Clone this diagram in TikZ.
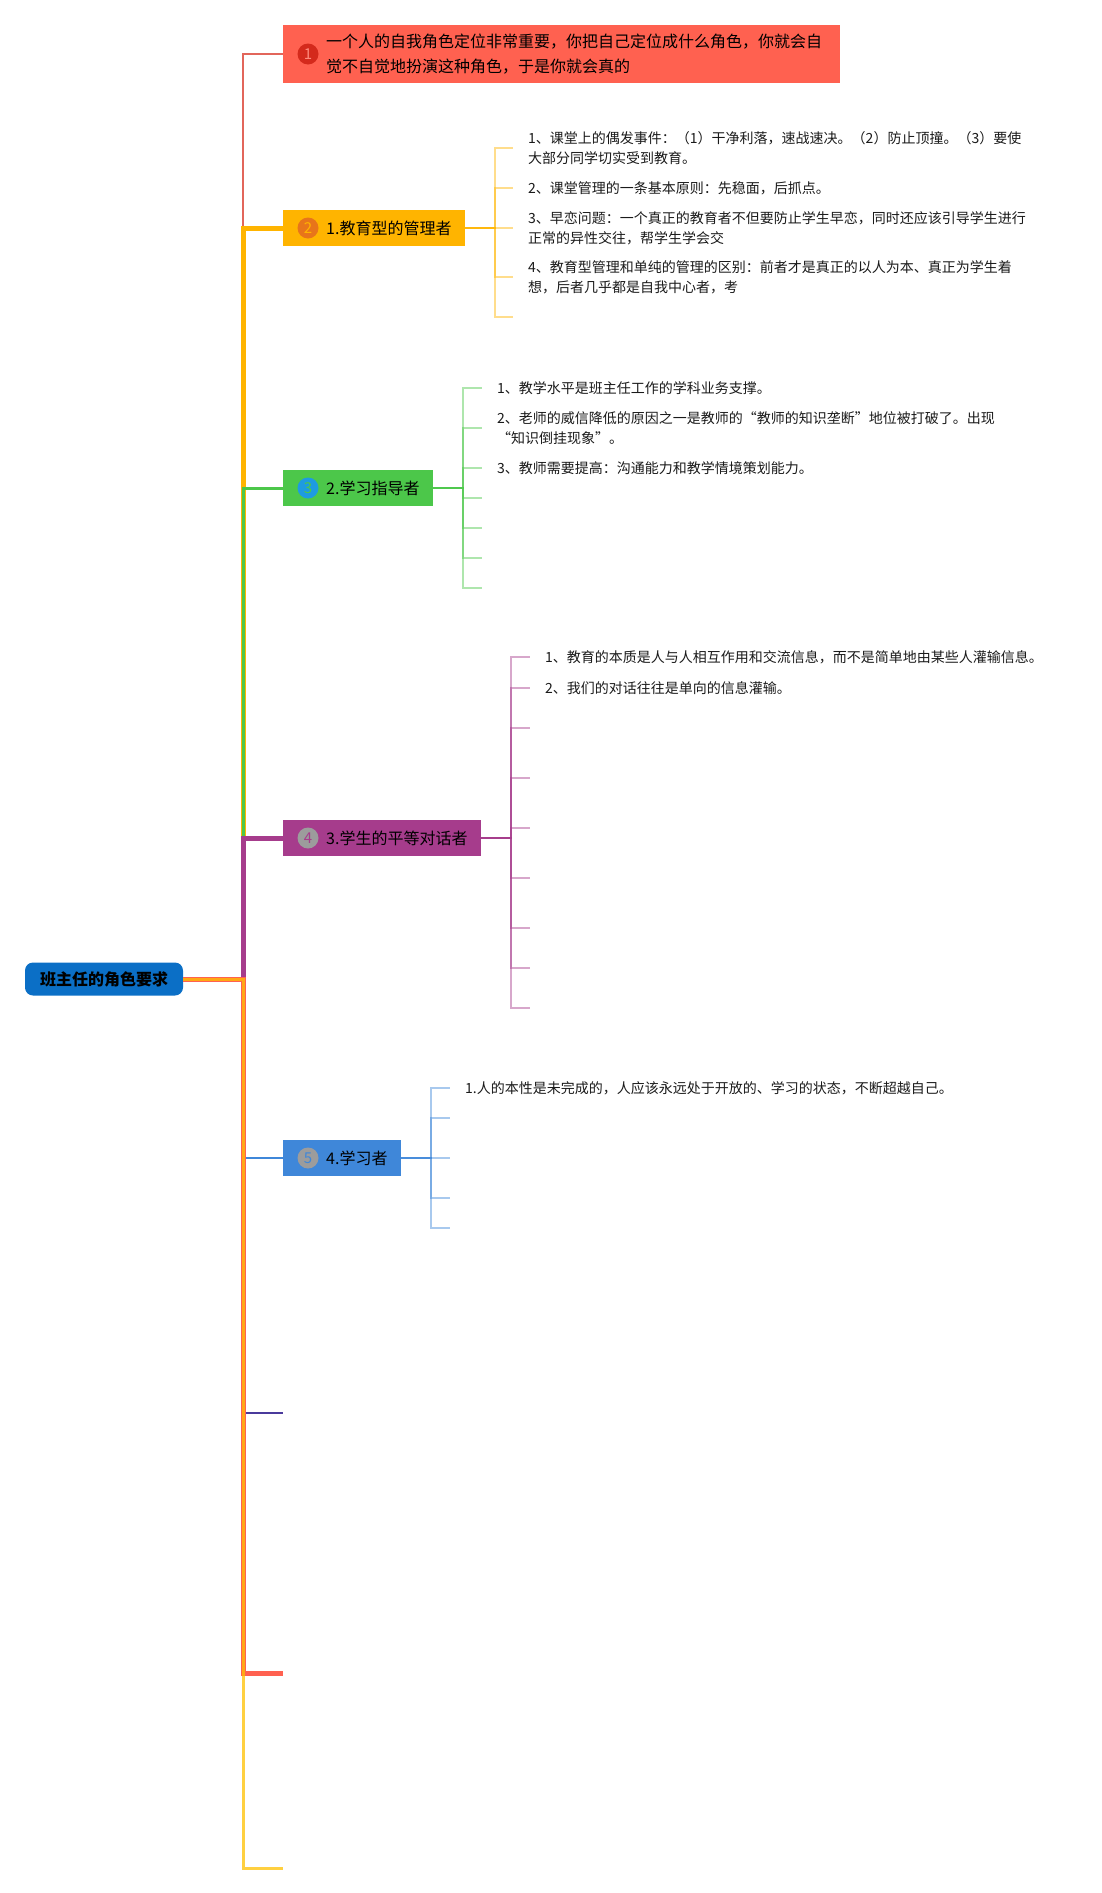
\documentclass[tikz,border=0pt]{standalone}
\usepackage{fontspec}
\setmainfont{Noto Sans CJK SC}
\definecolor{rootc}{HTML}{0B6FC6}
\definecolor{c1}{HTML}{FF6150}
\definecolor{c1d}{HTML}{D42A1C}
\definecolor{c1n}{HTML}{FF8A7C}
\definecolor{c1l}{HTML}{E2665B}
\definecolor{c2}{HTML}{FFB400}
\definecolor{c2d}{HTML}{E8751A}
\definecolor{c3}{HTML}{4CC74A}
\definecolor{c3d}{HTML}{1E9BE0}
\definecolor{c4}{HTML}{A63C8C}
\definecolor{c5}{HTML}{3F87D9}
\definecolor{cgrey}{HTML}{9C9C9C}
\definecolor{c6}{HTML}{4A3A9C}
\definecolor{c7}{HTML}{FF6150}
\definecolor{c8}{HTML}{FFC000}
\definecolor{ink}{HTML}{1A1A1A}
\tikzset{
  box/.style={rectangle, anchor=west, minimum height=36pt, inner xsep=13pt, inner ysep=0pt,
    font=\fontsize{16}{25}\selectfont},
  numdot/.style={circle, minimum size=21pt, inner sep=0pt, font=\fontsize{15}{15}\selectfont},
  item/.style={anchor=west, inner xsep=15pt, inner ysep=0pt, align=left, text=ink,
    font=\fontsize{14}{20}\selectfont},
  twig/.style={line width=2pt, draw opacity=0.45},
}
\begin{document}
\begin{tikzpicture}[x=1pt, y=-1pt]
        \useasboundingbox (0,0) rectangle (1102,1893);
        \def\bx{283}
        % root and hub
        \node[fill=rootc, rounded corners=8pt, minimum width=158pt, minimum height=33pt,
          font=\bfseries\fontsize{16}{16}\selectfont] (A0_0) at (104,979) {班主任的角色要求};
        \coordinate (H) at (243,979);
        % main branches
        \node[box, fill=c1, minimum height=58pt] (A1_1) at (\bx,54)
          {\hspace*{30pt}\parbox{501pt}{一个人的自我角色定位非常重要，你把自己定位成什么角色，你就会自\\觉不自觉地扮演这种角色，于是你就会真的}};
        \node[box, fill=c2] (A1_2) at (\bx,228) {\hspace*{30pt}1.教育型的管理者};
        \node[box, fill=c3] (A1_3) at (\bx,488) {\hspace*{30pt}2.学习指导者};
        \node[box, fill=c4] (A1_4) at (\bx,838) {\hspace*{30pt}3.学生的平等对话者};
        \node[box, fill=c5] (A1_5) at (\bx,1158) {\hspace*{30pt}4.学习者};
        \coordinate (A1_6) at (\bx,1413);
        \coordinate (A1_7) at (\bx,1673);
        \coordinate (A1_8) at (\bx,1868);
        \node[numdot, fill=c1d, text=c1n] (D1) at ([xshift=25pt]A1_1.west) {1};
        \node[numdot, fill=c2d, text=c2] (D2) at ([xshift=25pt]A1_2.west) {2};
        \node[numdot, fill=c3d, text=c3] (D3) at ([xshift=25pt]A1_3.west) {3};
        \node[numdot, fill=cgrey, text=c4] (D4) at ([xshift=25pt]A1_4.west) {4};
        \node[numdot, fill=cgrey, text=c5] (D5) at ([xshift=25pt]A1_5.west) {5};
        % trunk
        \draw[line width=2pt, c1l] (A0_0.east) -- (H) |- (A1_1);
        \draw[line width=5pt, c2] (A0_0.east) -- (H) |- (A1_2);
        \draw[line width=3pt, c3] (A0_0.east) -- (H) |- (A1_3);
        \draw[line width=5pt, c4] (A0_0.east) -- (H) |- (A1_4);
        \draw[line width=2pt, c5] (A0_0.east) -- (H) |- (A1_5);
        \draw[line width=2.5pt, c6] (A0_0.east) -- (H) |- (A1_6);
        \draw[line width=5pt, c7] (A0_0.east) -- (H) |- (A1_7);
        \draw[line width=3pt, c8, draw opacity=0.75] (A0_0.east) -- (H) |- (A1_8);
        % 1.教育型的管理者
        \node[item] (A2_2_1) at (513,148) {1、课堂上的偶发事件：（1）干净利落，速战速决。（2）防止顶撞。（3）要使\\大部分同学切实受到教育。};
        \node[item] (A2_2_2) at (513,188) {2、课堂管理的一条基本原则：先稳面，后抓点。};
        \node[item] (A2_2_3) at (513,228) {3、早恋问题：一个真正的教育者不但要防止学生早恋，同时还应该引导学生进行\\正常的异性交往，帮学生学会交};
        \node[item] (A2_2_4) at (513,277) {4、教育型管理和单纯的管理的区别：前者才是真正的以人为本、真正为学生着\\想，后者几乎都是自我中心者，考};
        \coordinate (A2_2_5) at (513,317);
        \foreach \k in {1,...,5}
          \draw[twig, c2] (A1_2.east) -- ++(30,0) |- (A2_2_\k);
        % 2.学习指导者
        \node[item] (A2_3_1) at (482,388) {1、教学水平是班主任工作的学科业务支撑。};
        \node[item] (A2_3_2) at (482,428) {2、老师的威信降低的原因之一是教师的“教师的知识垄断”地位被打破了。出现\\“知识倒挂现象”。};
        \node[item] (A2_3_3) at (482,468) {3、教师需要提高：沟通能力和教学情境策划能力。};
        \coordinate (A2_3_4) at (482,498);
        \coordinate (A2_3_5) at (482,528);
        \coordinate (A2_3_6) at (482,558);
        \coordinate (A2_3_7) at (482,588);
        \foreach \k in {1,...,7}
          \draw[twig, c3] (A1_3.east) -- ++(30,0) |- (A2_3_\k);
        % 3.学生的平等对话者
        \node[item] (A2_4_1) at (530,657) {1、教育的本质是人与人相互作用和交流信息，而不是简单地由某些人灌输信息。};
        \node[item] (A2_4_2) at (530,688) {2、我们的对话往往是单向的信息灌输。};
        \foreach \k/\y in {3/728, 4/778, 5/828, 6/878, 7/928, 8/968, 9/1008}
          \coordinate (A2_4_\k) at (530,\y);
        \foreach \k in {1,...,9}
          \draw[twig, c4] (A1_4.east) -- ++(30,0) |- (A2_4_\k);
        % 4.学习者
        \node[item] (A2_5_1) at (450,1088) {1.人的本性是未完成的，人应该永远处于开放的、学习的状态，不断超越自己。};
        \foreach \k/\y in {2/1118, 3/1158, 4/1198, 5/1228}
          \coordinate (A2_5_\k) at (450,\y);
        \foreach \k in {1,...,5}
          \draw[twig, c5] (A1_5.east) -- ++(30,0) |- (A2_5_\k);
      \end{tikzpicture}
\end{document}
